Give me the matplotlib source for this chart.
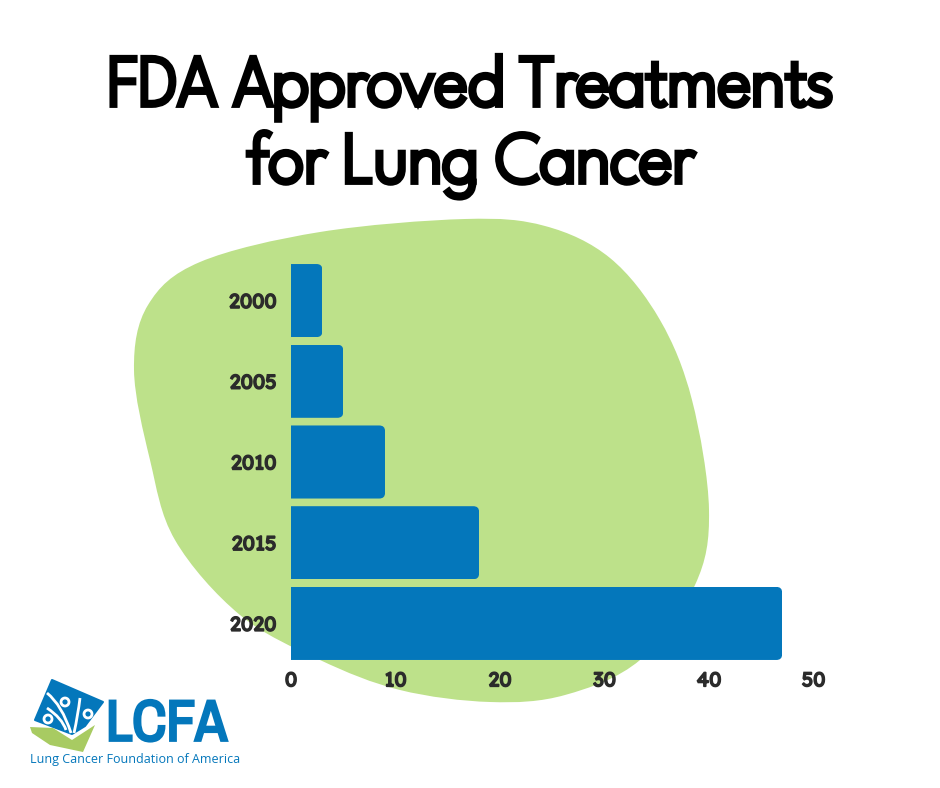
import numpy as np
import matplotlib
matplotlib.use('Agg')
import matplotlib.pyplot as plt
import matplotlib.patheffects as pe
from matplotlib.path import Path
from matplotlib.patches import PathPatch, Polygon, Circle

years = ['2000', '2005', '2010', '2015', '2020']
treatments = [3, 5, 9, 18, 47]
x_ticks = [0, 10, 20, 30, 40, 50]

BLUE = '#0477bb'
GREEN = '#bde18a'
TEXT = '#2b2b2b'
TITLE_FONT = ['League Spartan', 'Lato', 'DejaVu Sans']
TICK_FONT = ['Lexend', 'Lato', 'DejaVu Sans']
LOGO_FONT = ['Archivo Narrow', 'Roboto', 'DejaVu Sans']

W, H = 940, 788
plt.rcParams['font.family'] = ['Lato', 'DejaVu Sans']
fig = plt.figure(figsize=(W / 100, H / 100), dpi=100, facecolor='white')


def heavier(lw, color):
    # these fonts only load at their light default weight, so thicken with a stroke
    return [pe.withStroke(linewidth=lw, foreground=color, joinstyle='miter', capstyle='butt')]


# backdrop axes in pixel coords, for the blob, title and logo
bg = fig.add_axes([0, 0, 1, 1], zorder=0)
bg.set_xlim(0, W)
bg.set_ylim(H, 0)
bg.axis('off')

# blob outline, smoothed with catmull-rom
blob = np.array([
    (465, 219), (545, 226), (610, 258), (660, 320), (692, 400), (709, 510),
    (695, 585), (640, 660), (565, 695), (490, 702), (400, 690), (320, 660),
    (240, 615), (175, 540), (150, 460), (134, 370), (148, 305), (200, 262),
    (320, 232),
], dtype=float)
n = len(blob)
verts = [blob[0]]
codes = [Path.MOVETO]
for i in range(n):
    p0, p1, p2, p3 = blob[i - 1], blob[i], blob[(i + 1) % n], blob[(i + 2) % n]
    verts += [p1 + (p2 - p0) / 6, p2 - (p3 - p1) / 6, p2]
    codes += [Path.CURVE4] * 3
bg.add_patch(PathPatch(Path(verts, codes), facecolor=GREEN, edgecolor='none'))

# title
bg.text(471, 105, 'FDA Approved Treatments', ha='center', va='baseline', fontsize=51.5,
        color='black', family=TITLE_FONT, path_effects=heavier(4.2, 'black'))
bg.text(471, 182, 'for Lung Cancer', ha='center', va='baseline', fontsize=51.5,
        color='black', family=TITLE_FONT, path_effects=heavier(4.2, 'black'))

# logo
bg.add_patch(Polygon([(52, 680), (103, 702), (85, 726), (72, 734), (35, 720)],
                     facecolor=BLUE, edgecolor=BLUE, lw=1.5, joinstyle='round'))
strokes = [
    [(47, 693), (62, 705), (71, 733)],
    [(80, 698), (78, 715), (74, 733)],
    [(47, 708), (62, 718), (66, 730)],
]
for s in strokes:
    bg.add_patch(PathPatch(Path(s, [Path.MOVETO, Path.CURVE3, Path.CURVE3]),
                           facecolor='none', edgecolor='white', lw=2))
for cx, cy in [(65, 702), (88, 714), (48, 719)]:
    bg.add_patch(Circle((cx, cy), 4, facecolor=BLUE, edgecolor='white', lw=2))
bg.add_patch(Polygon([(30, 727), (53, 728), (72, 740), (95, 725), (83, 752), (50, 745), (32, 733)],
                     facecolor='#a8cb62', edgecolor='none'))
bg.text(106, 740.5, 'LCFA', ha='left', va='baseline', fontsize=41.5, color=BLUE,
        family=LOGO_FONT, path_effects=heavier(2, BLUE))
bg.text(30, 759, 'Lung Cancer Foundation of America', ha='left', va='center',
        fontsize=9, color=BLUE, family=['Open Sans', 'DejaVu Sans'])

# chart axes, left/right/top/bottom
left, right, top, bottom = 291, 813.5, 260.2, 663.8
ax = fig.add_axes([left / W, 1 - bottom / H, (right - left) / W, (bottom - top) / H],
                  zorder=1)
ax.patch.set_alpha(0)
ypos = np.arange(len(years))
bars = ax.barh(ypos, treatments, height=0.905, color=BLUE)
ax.set_xlim(0, 50)
ax.set_ylim(len(years) - 0.5, -0.5)

# round the right hand corners only
rx, ry = 0.55, 0.07
for bar in bars:
    x1 = bar.get_width()
    y0 = bar.get_y()
    y1 = y0 + bar.get_height()
    clip = Path(
        [(-1, y0), (x1 - rx, y0), (x1, y0), (x1, y0 + ry), (x1, y1 - ry),
         (x1, y1), (x1 - rx, y1), (-1, y1), (-1, y0)],
        [Path.MOVETO, Path.LINETO, Path.CURVE3, Path.CURVE3, Path.LINETO,
         Path.CURVE3, Path.CURVE3, Path.LINETO, Path.CLOSEPOLY])
    bar.set_clip_path(clip, ax.transData)

ax.set_yticks(ypos)
ax.set_yticklabels(years, fontsize=14.5, color=TEXT, family=TICK_FONT,
                   path_effects=heavier(1, TEXT))
ax.set_xticks(x_ticks)
ax.set_xticklabels([str(t) for t in x_ticks], fontsize=14.5, color=TEXT, family=TICK_FONT,
                   path_effects=heavier(1, TEXT))
ax.tick_params(axis='y', length=0, pad=10.5)
ax.tick_params(axis='x', length=0, pad=5.5)
for s in ax.spines.values():
    s.set_visible(False)

fig.savefig('out.png', dpi=100)
